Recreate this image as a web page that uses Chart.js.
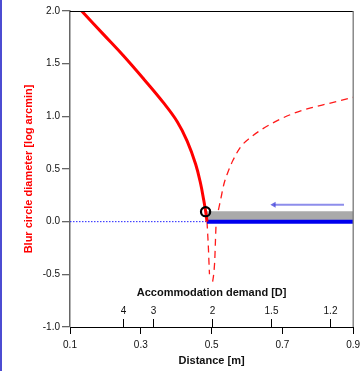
<!DOCTYPE html>
<html>
<head>
<meta charset="utf-8">
<script src="https://cdn.jsdelivr.net/npm/chart.js@4.4.0/dist/chart.umd.min.js"></script>
<style>
  html, body { margin: 0; padding: 0; background: #fff; }
  #wrap { width: 360px; height: 371px; }
</style>
</head>
<body>
<div id="wrap"><canvas id="blurChart" width="360" height="371"></canvas></div>
<script>
// distance axis (m) and accommodation demand axis (D)
const distTicks = [0.1, 0.3, 0.5, 0.7, 0.9];
const demandTicks = [4, 3, 2, 1.5, 1.2];

// blur circle, solid part (log arcmin)
const solidX = [0.133, 0.1945, 0.251, 0.308, 0.365, 0.403, 0.431, 0.455, 0.469, 0.478, 0.483, 0.487];
const solidY = [2.0, 1.778, 1.575, 1.355, 1.125, 0.949, 0.765, 0.545, 0.36, 0.2, 0.1, 0.0];

// dashed branches
const dashLeftX = [0.487, 0.489, 0.491, 0.4925, 0.494];
const dashLeftY = [0.0, -0.12, -0.25, -0.38, -0.5];
const dashRightX = [0.503, 0.5065, 0.509, 0.511, 0.513, 0.518, 0.525, 0.535, 0.545, 0.56, 0.582, 0.61, 0.639, 0.68, 0.733, 0.78, 0.828, 0.9];
const dashRightY = [-0.57, -0.48, -0.36, -0.17, 0.0, 0.09, 0.2, 0.36, 0.46, 0.58, 0.71, 0.80, 0.87, 0.95, 1.03, 1.08, 1.12, 1.18];

// focus point, zero line, tolerance band, arrow
const focusPoint = [0.483, 0.095];
const zeroSplit = 0.487;
const bandTop = 0.1;
const arrowX = [0.874, 0.676];
const arrowY = 0.16;

const FONT = "'Liberation Sans', Arial, Helvetica, sans-serif";

function pts(xs, ys) {
    return xs.map(function (x, i) { return { x: x, y: ys[i] }; });
}

const extras = {
    id: 'extras',
    beforeDraw(chart) {
        const ctx = chart.ctx;
        ctx.save();
        ctx.fillStyle = '#4c4cd2';
        ctx.fillRect(0, 0, 2, chart.height);
        ctx.restore();
    },
    afterDraw(chart) {
        const ctx = chart.ctx;
        const a = chart.chartArea;
        const xs = chart.scales.x;
        ctx.save();
        // frame top and right
        ctx.strokeStyle = '#000';
        ctx.lineWidth = 1;
        ctx.beginPath();
        ctx.moveTo(a.left, a.top + 0.5);
        ctx.lineTo(a.right, a.top + 0.5);
        ctx.stroke();
        ctx.strokeStyle = '#777';
        ctx.lineWidth = 1.3;
        ctx.beginPath();
        ctx.moveTo(a.right, a.top);
        ctx.lineTo(a.right, a.bottom);
        ctx.stroke();

        // accommodation demand axis (inside, from the bottom)
        ctx.strokeStyle = '#000';
        ctx.lineWidth = 1;
        ctx.fillStyle = '#111';
        ctx.font = '10px ' + FONT;
        ctx.textAlign = 'center';
        ctx.textBaseline = 'middle';
        demandTicks.forEach(function (d) {
            const px = Math.round(xs.getPixelForValue(1 / d)) + 0.5;
            ctx.beginPath();
            ctx.moveTo(px, a.bottom);
            ctx.lineTo(px, a.bottom - 8);
            ctx.stroke();
            ctx.fillText(String(d), px, a.bottom - 16);
        });
        ctx.font = 'bold 11px ' + FONT;
        ctx.fillText('Accommodation demand [D]', (a.left + a.right) / 2, a.bottom - 34);
        ctx.restore();
    }
};

const chart = new Chart(document.getElementById('blurChart'), {
    type: 'scatter',
    data: {
        datasets: [
            {
                label: 'focus',
                data: [{ x: focusPoint[0], y: focusPoint[1] }],
                showLine: false,
                pointRadius: 4.6,
                pointBorderWidth: 2.2,
                pointBorderColor: '#000',
                pointBackgroundColor: 'rgba(0,0,0,0)',
                order: 0
            },
            {
                label: 'solid',
                data: pts(solidX, solidY),
                showLine: true,
                borderColor: '#ff0000',
                borderWidth: 3,
                pointRadius: 0,
                tension: 0.4,
                order: 1
            },
            {
                label: 'arrow',
                data: pts(arrowX, [arrowY, arrowY]),
                showLine: true,
                borderColor: 'rgba(80,80,225,0.65)',
                borderWidth: 2,
                pointRadius: [0, 3.5],
                pointStyle: 'triangle',
                rotation: -90,
                pointBackgroundColor: 'rgba(70,70,220,0.8)',
                pointBorderWidth: 0,
                order: 2
            },
            {
                label: 'zero thick',
                data: pts([zeroSplit, 0.9], [0, 0]),
                showLine: true,
                borderColor: '#0000ee',
                borderWidth: 4,
                pointRadius: 0,
                order: 3
            },
            {
                label: 'band',
                data: pts([zeroSplit, 0.9], [bandTop, bandTop]),
                showLine: true,
                borderWidth: 0,
                borderColor: 'rgba(0,0,0,0)',
                backgroundColor: '#aaaaaa',
                fill: { value: 0 },
                pointRadius: 0,
                order: 4
            },
            {
                label: 'zero dotted',
                data: pts([0.1, zeroSplit], [0, 0]),
                showLine: true,
                borderColor: '#2020ff',
                borderWidth: 1,
                borderDash: [1.5, 1.5],
                pointRadius: 0,
                order: 5
            },
            {
                label: 'dash left',
                data: pts(dashLeftX, dashLeftY),
                showLine: true,
                borderColor: '#ff1a1a',
                borderWidth: 1.3,
                borderDash: [7, 5],
                pointRadius: 0,
                cubicInterpolationMode: 'monotone',
                order: 6
            },
            {
                label: 'dash right',
                data: pts(dashRightX, dashRightY),
                showLine: true,
                borderColor: '#ff1a1a',
                borderWidth: 1.3,
                borderDash: [7, 5],
                pointRadius: 0,
                cubicInterpolationMode: 'monotone',
                order: 6
            }
        ]
    },
    options: {
        responsive: false,
        animation: false,
        layout: { padding: { top: 11, right: 6, left: 0, bottom: 0 } },
        plugins: {
            legend: { display: false },
            tooltip: { enabled: false }
        },
        scales: {
            x: {
                type: 'linear',
                min: 0.1,
                max: 0.9,
                afterFit: function (s) {
                    s.height = 44;
                    s.paddingLeft = 0;
                    s.paddingRight = 0;
                },
                afterBuildTicks: function (s) {
                    s.ticks = distTicks.map(function (v) { return { value: v }; });
                },
                ticks: {
                    padding: 5,
                    color: '#111',
                    font: { family: FONT, size: 10 },
                    maxRotation: 0,
                    callback: function (v) { return v.toFixed(1); }
                },
                grid: { drawOnChartArea: false, drawTicks: true, tickLength: 7, color: '#000' },
                border: { display: true, color: '#000', width: 1 },
                title: {
                    display: true,
                    text: 'Distance [m]',
                    color: '#111',
                    font: { family: FONT, size: 11, weight: 'bold' },
                    padding: { top: 0, bottom: 3.4 }
                }
            },
            y: {
                min: -1,
                max: 2,
                afterFit: function (s) {
                    s.width = 70;
                    s.paddingTop = 0;
                    s.paddingBottom = 0;
                },
                ticks: {
                    stepSize: 0.5,
                    padding: 2,
                    color: '#111',
                    font: { family: FONT, size: 10 },
                    callback: function (v) { return v.toFixed(1); }
                },
                grid: { drawOnChartArea: false, drawTicks: true, tickLength: 8, color: '#666', lineWidth: 1.3 },
                border: { display: true, color: '#666', width: 1.5 },
                title: {
                    display: true,
                    text: 'Blur circle diameter [log arcmin]',
                    color: '#ff0000',
                    font: { family: FONT, size: 11, weight: 'bold' },
                    padding: { top: 22.4, bottom: 0 }
                }
            }
        }
    },
    plugins: [extras]
});
</script>
</body>
</html>
